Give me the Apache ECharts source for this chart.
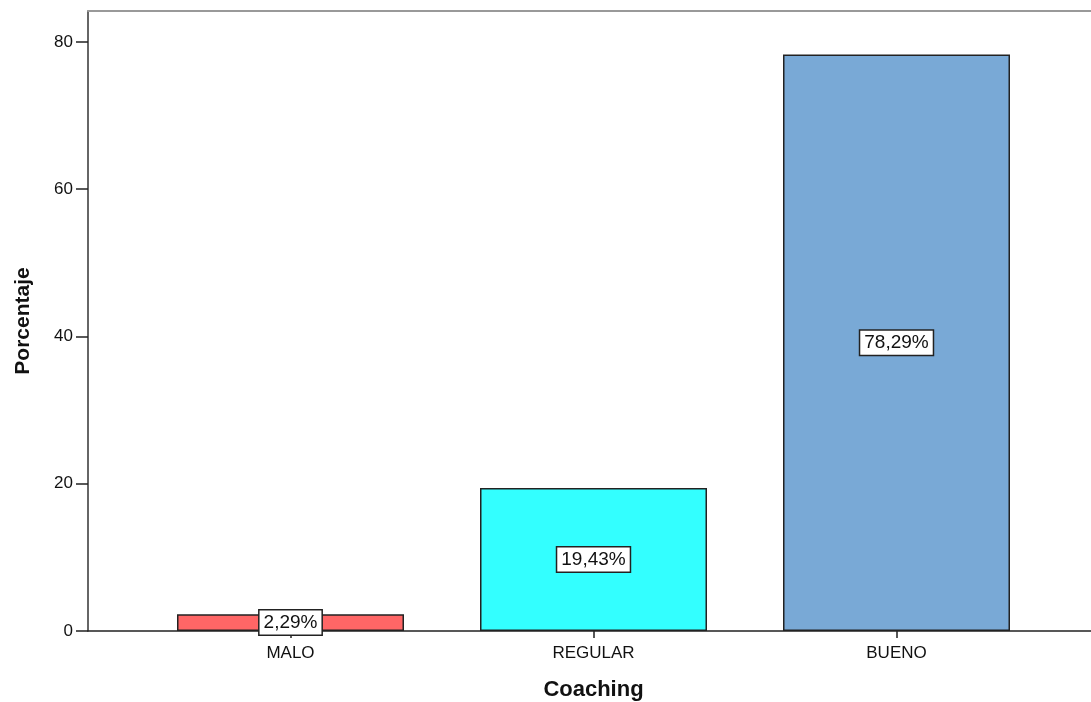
<!DOCTYPE html>
<html>
<head>
<meta charset="utf-8">
<script src="https://cdn.jsdelivr.net/npm/echarts@6/dist/echarts.min.js"></script>
<style>
  html, body { margin: 0; padding: 0; background: #fff; }
  #chart { width: 1091px; height: 702px; }
</style>
</head>
<body>
<div id="chart"></div>
<script>
// Coaching levels and their share of respondents (%)
const categories = ['MALO', 'REGULAR', 'BUENO'];
const percentages = [2.29, 19.43, 78.29];
const barColors = ['#FF6666', '#33FFFF', '#79A9D6'];
const yTicks = [0, 20, 40, 60, 80];

const FONT = '"Liberation Sans", Arial, sans-serif';
const Y_MAX = 84.2;

const chart = echarts.init(document.getElementById('chart'), null, { renderer: 'canvas' });

chart.setOption({
  animation: false,
  backgroundColor: '#ffffff',
  grid: [
    // frame: y axis, baseline and top border across the full width
    { left: 88, right: 0, top: 11, bottom: 71, outerBoundsMode: 'none', containLabel: false },
    // bar area, with the category bands centred under the bars
    { left: 139, right: 43, top: 11, bottom: 71, outerBoundsMode: 'none', containLabel: false }
  ],
  xAxis: [
    {
      gridIndex: 0, type: 'value', min: 0, max: 1, position: 'bottom',
      axisLine: { show: true, lineStyle: { color: '#222', width: 1.5 } },
      axisTick: { show: false }, axisLabel: { show: false }, splitLine: { show: false }
    },
    {
      gridIndex: 0, type: 'value', min: 0, max: 1, position: 'top',
      axisLine: { show: true, lineStyle: { color: '#999', width: 2 } },
      axisTick: { show: false }, axisLabel: { show: false }, splitLine: { show: false }
    },
    {
      gridIndex: 1, type: 'category', data: categories, position: 'bottom',
      axisLine: { show: false },
      axisTick: { show: true, alignWithLabel: true, length: 7, lineStyle: { color: '#222', width: 1.5 } },
      axisLabel: { color: '#111', fontFamily: FONT, fontSize: 17, margin: 14 },
      name: 'Coaching', nameLocation: 'middle', nameGap: 48,
      nameTextStyle: { color: '#111', fontFamily: FONT, fontSize: 22, fontWeight: 'bold' }
    }
  ],
  yAxis: [
    {
      gridIndex: 0, type: 'value', min: 0, max: Y_MAX,
      axisLine: { show: true, lineStyle: { color: '#333', width: 1.5 } },
      axisTick: { show: true, length: 12, customValues: yTicks, lineStyle: { color: '#222', width: 1.5 } },
      axisLabel: {
        color: '#111', fontFamily: FONT, fontSize: 17, margin: 15,
        customValues: yTicks
      },
      splitLine: { show: false },
      name: 'Porcentaje', nameLocation: 'middle', nameGap: 54, nameRotate: 90,
      nameTextStyle: { color: '#111', fontFamily: FONT, fontSize: 21, fontWeight: 'bold' }
    },
    {
      gridIndex: 1, type: 'value', min: 0, max: Y_MAX, show: false
    }
  ],
  series: [
    {
      type: 'bar',
      xAxisIndex: 2,
      yAxisIndex: 1,
      barWidth: 227,
      data: percentages.map((v, i) => ({
        value: v,
        itemStyle: { color: barColors[i], borderColor: '#222', borderWidth: 1.5 }
      })),
      label: {
        show: true,
        position: 'inside',
        formatter: p => p.value.toFixed(2).replace('.', ',') + '%',
        color: '#111',
        fontFamily: FONT,
        fontSize: 19,
        backgroundColor: '#ffffff',
        borderColor: '#222',
        borderWidth: 1.5,
        padding: [3, 4, 2, 4]
      }
    }
  ]
});
</script>
</body>
</html>
